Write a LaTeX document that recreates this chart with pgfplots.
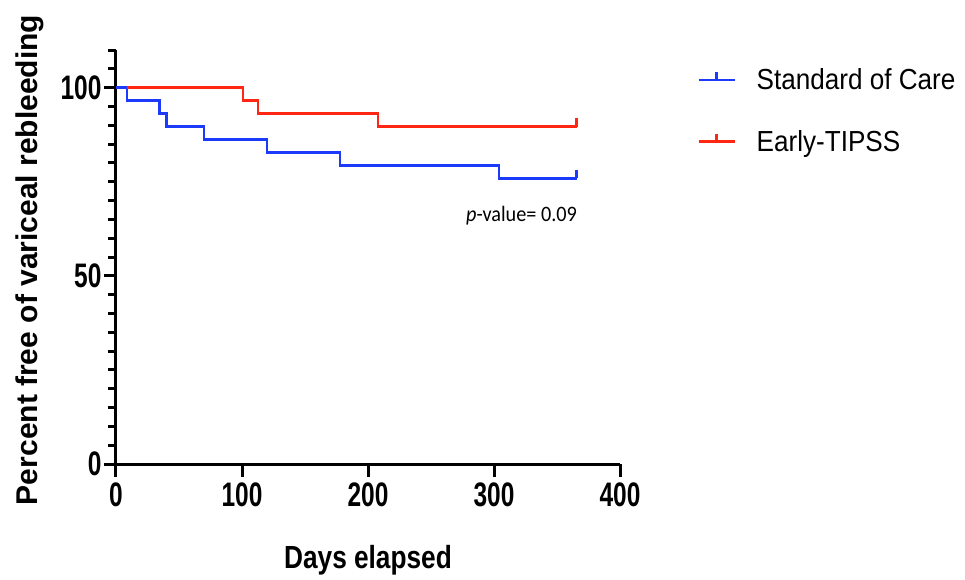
\documentclass[border=0pt]{standalone}
\usepackage{fontspec}
\usepackage{pgfplots}
\pgfplotsset{compat=1.18}
\setmainfont{Liberation Sans}
\newfontfamily\tickfont[FakeStretch=0.72]{Liberation Sans Bold}
\newfontfamily\labfont[FakeStretch=0.82]{Liberation Sans Bold}
\newfontfamily\ylabfont{Liberation Sans Bold}
\newfontfamily\legfont[FakeStretch=0.9]{Liberation Sans}
\newfontfamily\pfont[FakeStretch=0.92]{Carlito}
\definecolor{kmblue}{RGB}{28,58,250}
\definecolor{kmred}{RGB}{255,38,20}
\begin{document}
\begin{tikzpicture}
\useasboundingbox (-116pt,-115pt) rectangle (849pt,464pt);
\begin{axis}[
  at={(0pt,0pt)}, anchor=south west,
  scale only axis, width=504pt, height=414pt,
  xmin=0, xmax=400, ymin=0, ymax=110,
  clip=false,
  axis x line*=bottom, axis y line*=left,
  x axis line style={-}, y axis line style={-},
  axis line style={line width=3pt, black},
  xtick={0,100,200,300,400},
  ytick={0,50,100},
  minor ytick={5,10,...,110},
  tick align=outside,
  major tick length=12pt, minor tick length=8pt,
  every tick/.style={black, line width=3pt},
  /pgf/number format/assume math mode=true,
  ticklabel style={font=\tickfont\fontsize{34}{34}\selectfont},
  xticklabel style={yshift=-3pt},
  yticklabel style={xshift=1pt},
  xlabel={Days elapsed},
  xlabel style={font=\labfont\fontsize{32}{32}\selectfont, at={(axis description cs:0.5,-0.2536)}, anchor=base},
  ylabel={Percent free of variceal rebleeding},
  ylabel style={font=\ylabfont\fontsize{30}{30}\selectfont, at={(axis description cs:-0.171,0.493)}, anchor=center},
  legend style={draw=none, fill=none, at={(rel axis cs:1.153,0.955)}, anchor=north west,
    font=\legfont\fontsize{29}{29}\selectfont, row sep=39pt, inner sep=0pt,
    nodes={inner sep=0pt}, column sep=21pt},
  legend cell align=left,
  legend image code/.code={
    \draw[#1] (0pt,0pt) -- (36pt,0pt);
    \draw[#1] (18pt,0pt) -- (18pt,8pt);
  },
]
\addplot[const plot, kmblue, line width=2.4pt] coordinates {
  (0,100) (8.5,96.55) (34.5,93.10) (40,89.66) (70,86.21) (120,82.76) (178,79.31) (304,75.86) (365.5,75.86)
};
\addlegendentry{Standard of Care}
\addplot[const plot, kmred, line width=2.4pt] coordinates {
  (0,100) (101,96.55) (112.5,93.10) (208,89.66) (365.5,89.66)
};
\addlegendentry{Early-TIPSS}
\addplot[kmblue, line width=2.4pt, forget plot] coordinates {(365.5,75.86) (365.5,78.2)};
\addplot[kmred, line width=2.4pt, forget plot] coordinates {(365.5,89.66) (365.5,92.0)};
\addplot[kmblue, line width=2.4pt, forget plot] coordinates {(0,100) (8.5,100)};
\pgfplotsinvokeforeach{5,10,15,20,25,30,35,40,45,55,60,65,70,75,80,85,90,95,105,110}{
  \draw[black, line width=3pt] (axis cs:0,#1) -- ++(-8pt,0pt);
}
\pgfplotsinvokeforeach{0,50,100}{
  \draw[black, line width=3pt] (axis cs:0,#1) -- ++(-12pt,0pt);
}
\pgfplotsinvokeforeach{0,100,200,300,400}{
  \draw[black, line width=3pt] (axis cs:#1,0) -- ++(0pt,-13pt);
}
\node[anchor=base east, inner sep=0pt, font=\pfont\fontsize{22}{22}\selectfont] at (axis cs:366,64.4) {\textit{p}-value= 0.09};
\end{axis}
\end{tikzpicture}
\end{document}
